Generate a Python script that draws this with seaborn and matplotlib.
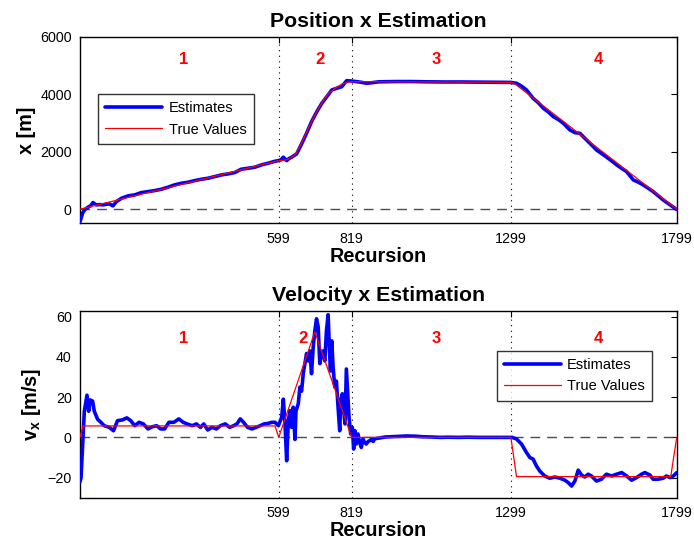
import matplotlib
matplotlib.use("Agg")
import matplotlib.pyplot as plt
import seaborn as sns
import pandas as pd

# Recursion marks separating the four manoeuvre phases
phase_bounds = [599, 819, 1299]
x_ticks = [599, 819, 1299, 1799]
phase_names = ["1", "2", "3", "4"]

# Position x: filter estimates (recursion, metres)
pos_est = [
    (0, -430), (4, -280), (8, -130), (14, -23), (24, 70), (32, 120), (39, 230),
    (49, 150), (59, 160), (69, 150), (79, 170), (89, 185), (99, 115), (110, 265),
    (125, 380), (145, 463), (165, 498), (185, 578), (205, 612), (225, 647),
    (245, 694), (265, 764), (285, 845), (306, 903), (326, 938), (346, 995),
    (366, 1041), (386, 1077), (406, 1134), (426, 1192), (446, 1227), (466, 1273),
    (486, 1390), (507, 1425), (527, 1460), (547, 1541), (567, 1599), (587, 1665),
    (598, 1690), (606, 1720), (613, 1808), (623, 1690), (630, 1760), (638, 1808),
    (653, 1923), (668, 2270), (683, 2642), (698, 3045), (714, 3393), (729, 3684),
    (744, 3914), (759, 4147), (774, 4206), (789, 4262), (804, 4471), (817, 4460),
    (834, 4436), (849, 4413), (864, 4380), (880, 4400), (900, 4430), (950, 4440),
    (1000, 4440), (1050, 4430), (1100, 4425), (1150, 4425), (1200, 4420),
    (1250, 4415), (1299, 4410), (1316, 4380), (1331, 4280), (1346, 4147),
    (1366, 3858), (1382, 3700), (1397, 3510), (1412, 3380), (1427, 3220),
    (1442, 3120), (1457, 2990), (1477, 2757), (1492, 2663), (1507, 2640),
    (1527, 2410), (1542, 2240), (1557, 2062), (1572, 1940), (1588, 1808),
    (1603, 1680), (1618, 1541), (1633, 1420), (1648, 1308), (1668, 1019),
    (1683, 940), (1698, 845), (1713, 730), (1728, 612), (1743, 470), (1758, 324),
    (1773, 200), (1789, 70), (1799, -15),
]

# Position x: true trajectory
pos_true = [
    (0, 0), (599, 1690), (613, 1700), (628, 1738), (648, 1887), (668, 2294),
    (688, 2815), (708, 3278), (728, 3684), (749, 4032), (769, 4206), (789, 4350),
    (809, 4420), (819, 4436), (1299, 4414), (1310, 4370), (1799, 0),
]

# Velocity x: filter estimates (recursion, m/s)
vel_est = [
    (0, -22), (3, -20), (8, -3), (13, 13), (21, 21), (26, 13), (31, 18.6),
    (38, 18), (43, 13), (53, 9), (63, 7.5), (73, 5.8), (88, 5), (101, 3.3),
    (113, 8.3), (128, 8.7), (141, 9.7), (153, 8.3), (165, 5.8), (178, 7.5),
    (191, 6.7), (205, 4.2), (218, 5.3), (231, 5.8), (243, 4.2), (255, 4.2),
    (268, 7.5), (283, 7.5), (298, 9.2), (311, 7.5), (323, 6.7), (338, 5.8),
    (351, 6.7), (363, 5), (373, 6.7), (385, 3.7), (398, 5), (411, 4.2),
    (423, 5.8), (438, 6.7), (451, 5), (463, 5.8), (473, 6.7), (483, 9.2),
    (493, 7.5), (505, 5), (518, 4.2), (531, 5), (543, 5.8), (555, 6.7),
    (568, 7), (578, 7.5), (588, 7.5), (598, 5.8), (608, 10), (613, 19),
    (618, 6.7), (623, -11.6), (628, 8.3), (633, 13.3), (638, 5), (643, 15),
    (648, -1), (651, 13), (658, 16.7), (663, 25), (668, 23), (673, 31.7),
    (678, 36.7), (683, 41.7), (688, 38), (693, 43), (698, 31.7), (703, 45),
    (708, 53), (713, 59), (718, 55), (723, 36.7), (728, 41.7), (733, 43),
    (738, 38), (743, 53), (748, 61), (751, 48), (755, 33), (759, 48), (763, 35),
    (768, 25), (773, 28), (778, 15), (783, 3.3), (786, 18.3), (791, 21.7),
    (795, 13.3), (799, 6.7), (803, 34), (807, 21.7), (811, 10), (816, 1.7),
    (821, 5), (825, -5.8), (829, 3.3), (833, -3.3), (838, 1.7), (843, -2.5),
    (848, -5), (853, -0.8), (858, -2.5), (863, -3.3), (869, -2), (873, -1.7),
    (878, -1), (884, -2), (888, -0.8), (894, -0.5), (904, -0.3), (920, 0.2),
    (935, 0.3), (960, 0.5), (985, 0.7), (1010, 0.6), (1035, 0.3), (1060, 0.2),
    (1086, 0), (1110, 0.1), (1140, 0), (1170, 0.1), (1200, 0), (1230, 0),
    (1260, 0), (1290, 0), (1303, 0), (1316, -0.8), (1331, -3.3), (1346, -7.5),
    (1356, -10), (1366, -10.8), (1376, -14.2), (1386, -16.7), (1401, -19.2),
    (1416, -20.3), (1432, -19.7), (1447, -20.3), (1462, -21.3), (1472, -22.5),
    (1482, -24.2), (1492, -21.7), (1502, -16.3), (1512, -18.7), (1522, -19.7),
    (1532, -18.3), (1542, -19.2), (1557, -21.7), (1572, -20.8), (1587, -18.3),
    (1603, -19.2), (1618, -18.3), (1633, -17.5), (1648, -19.2), (1663, -21.3),
    (1678, -20), (1693, -18.3), (1703, -17.5), (1718, -18.7), (1728, -20.8),
    (1743, -20.8), (1758, -20.3), (1768, -19.2), (1779, -20), (1789, -19.2),
    (1799, -17.5),
]

# Velocity x: true profile
vel_true = [
    (0, 0), (9, 5.7), (588, 5.7), (599, 0), (708, 52.5), (819, 0), (1299, 0),
    (1316, -19.5), (1781, -19.5), (1799, 0),
]

sns.set_theme(style="white")
plt.rcParams["font.family"] = ["Liberation Sans", "DejaVu Sans"]
plt.rcParams["mathtext.fontset"] = "custom"
plt.rcParams["mathtext.rm"] = "Liberation Sans"
plt.rcParams["mathtext.bf"] = "Liberation Sans:bold"
plt.rcParams["mathtext.it"] = "Liberation Sans:italic"
plt.rcParams["text.color"] = "black"
plt.rcParams["axes.labelcolor"] = "black"
plt.rcParams["xtick.color"] = "black"
plt.rcParams["ytick.color"] = "black"

fig = plt.figure(figsize=(6.94, 5.47), dpi=100)
ax_pos = fig.add_axes([0.1153, 0.5918, 0.8598, 0.3411])
ax_vel = fig.add_axes([0.1153, 0.0901, 0.8598, 0.3419])


def frame(ax, pairs_est, pairs_true, title, ylabel, ylim, yticks,
          label_y, label_xs, legend_anchor):
    est = pd.DataFrame(pairs_est, columns=["Recursion", "value"])
    tru = pd.DataFrame(pairs_true, columns=["Recursion", "value"])
    ax.axhline(0, color="0.3", lw=1.0, ls=(0, (7, 5)), zorder=1)
    for b in phase_bounds:
        ax.axvline(b, color="black", lw=0.8, ls=(0, (1, 4)), zorder=1)
    sns.lineplot(data=est, x="Recursion", y="value", ax=ax, color="#0000ff",
                 lw=2.6, estimator=None, sort=False, label="Estimates", zorder=3)
    sns.lineplot(data=tru, x="Recursion", y="value", ax=ax, color="#ff0000",
                 lw=0.9, estimator=None, sort=False, label="True Values", zorder=4)
    for name, xs in zip(phase_names, label_xs):
        ax.text(xs, label_y, name, color="#ff0000", fontsize=12,
                fontweight="bold", ha="center", va="center")
    ax.set_xlim(0, 1799)
    ax.set_ylim(*ylim)
    ax.set_xticks(x_ticks)
    ax.set_yticks(yticks)
    ax.tick_params(direction="in", length=4, width=0.8, top=True, right=True,
                   labelsize=10.3, colors="black", pad=6)
    for sp in ax.spines.values():
        sp.set_color("black")
        sp.set_linewidth(1.0)
    ax.set_title(title, fontsize=15.3, fontweight="bold", pad=7)
    ax.set_xlabel("Recursion", fontsize=14.3, fontweight="bold", labelpad=1)
    ax.set_ylabel(ylabel, fontsize=14.3, fontweight="bold", labelpad=3)
    leg = ax.legend(loc="upper left", bbox_to_anchor=legend_anchor, fontsize=10.5,
                    frameon=True, fancybox=False, edgecolor="black",
                    handlelength=3.9, handletextpad=0.45, labelspacing=0.5,
                    borderpad=0.5, borderaxespad=0.0)
    leg.get_frame().set_linewidth(1.0)


frame(ax_pos, pos_est, pos_true, "Position x Estimation", "x [m]",
      (-490, 6000), [0, 2000, 4000, 6000], 5190,
      [313, 724, 1075, 1563], (0.030, 0.693))
frame(ax_vel, vel_est, vel_true, "Velocity x Estimation",
      r"$\mathbf{v}_\mathbf{x}$ [m/s]",
      (-30, 63), [-20, 0, 20, 40, 60], 49,
      [313, 673, 1075, 1563], (0.698, 0.785))

fig.savefig("out.png", dpi=100)
